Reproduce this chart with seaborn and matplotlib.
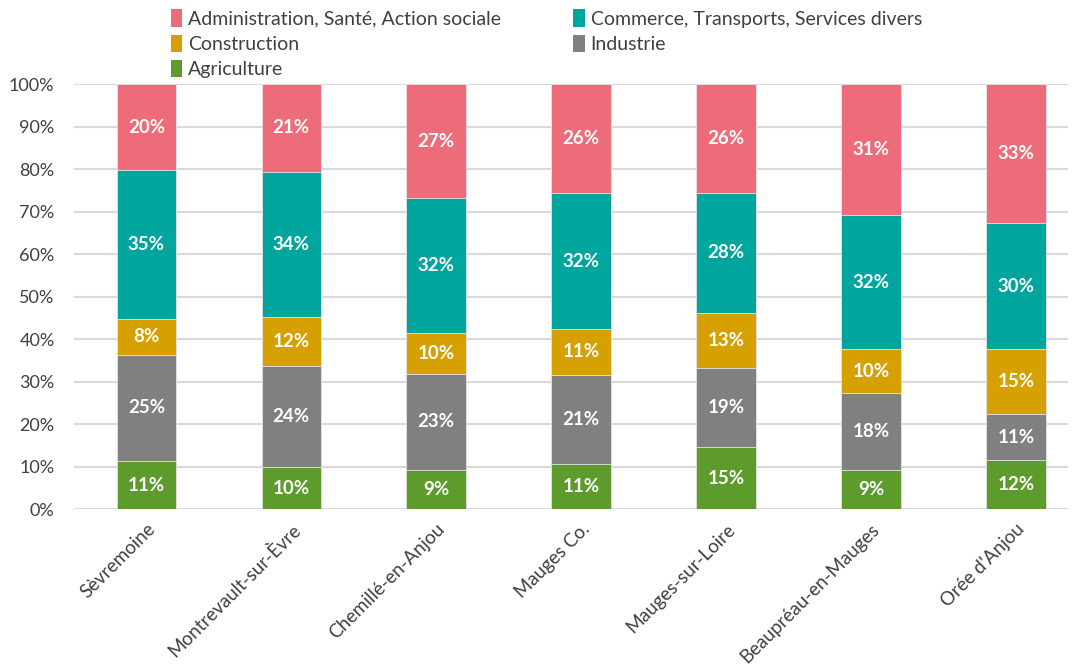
import numpy as np
import pandas as pd
import matplotlib
matplotlib.use("Agg")
import matplotlib.pyplot as plt
import seaborn as sns
from matplotlib.patches import Patch

# ==========================================
# DONNÉES (parts d'emploi par secteur, en %)
# ==========================================
communes = ["Sèvremoine", "Montrevault-sur-Èvre", "Chemillé-en-Anjou", "Mauges Co.",
            "Mauges-sur-Loire", "Beaupréau-en-Mauges", "Orée d'Anjou"]
agriculture = [11.4, 9.9, 9.2, 10.7, 14.6, 9.3, 11.7]
industrie = [25.0, 23.8, 22.7, 21.0, 18.6, 18.1, 10.6]
construction = [8.4, 11.6, 9.6, 10.7, 13.0, 10.2, 15.3]
commerce = [34.9, 34.1, 31.7, 32.0, 28.2, 31.6, 29.7]
administration = [20.3, 20.6, 26.8, 25.6, 25.6, 30.8, 32.7]

secteurs = ["Agriculture", "Industrie", "Construction",
            "Commerce, Transports, Services divers", "Administration, Santé, Action sociale"]
couleurs = {
    "Agriculture": "#5C9B2C",
    "Industrie": "#808080",
    "Construction": "#D5A000",
    "Commerce, Transports, Services divers": "#00A69D",
    "Administration, Santé, Action sociale": "#EE6C79",
}

df = pd.DataFrame({
    "commune": communes,
    "Agriculture": agriculture,
    "Industrie": industrie,
    "Construction": construction,
    "Commerce, Transports, Services divers": commerce,
    "Administration, Santé, Action sociale": administration,
})
cum = df[secteurs].cumsum(axis=1)
cum["commune"] = communes

# ==========================================
# STYLE
# ==========================================
sns.set_theme(style="white")
plt.rcParams['font.family'] = ['Lato', 'DejaVu Sans']

fig = plt.figure(figsize=(10.78, 6.68), dpi=100)
ax = fig.add_axes([0.0686, 0.2376, 0.9221, 0.6364])

# barres empilées : on trace les cumuls du plus grand au plus petit
for sect in reversed(secteurs):
    sns.barplot(data=cum, x="commune", y=sect, color=couleurs[sect], saturation=1,
                width=0.41, errorbar=None, edgecolor="#E6E6E6", linewidth=0.6, ax=ax)

# étiquettes de valeurs
for sect in secteurs:
    for i in range(len(communes)):
        val = df[sect][i]
        mid = cum[sect][i] - val / 2
        ax.text(i, mid, f"{val:.0f}%", ha="center", va="center", color="white",
                fontsize=13.5, fontweight="bold")

ax.set_ylim(0, 100)
ax.set_xlim(-0.5, 6.36)
ax.set_yticks(range(0, 101, 10))
ax.set_yticklabels([f"{v}%" for v in range(0, 101, 10)], fontsize=13, color="#404040")
ax.set_xticks(range(len(communes)))
ax.set_xticklabels(communes, rotation=45, ha="right", rotation_mode="anchor",
                   fontsize=13.5, color="#404040")
ax.tick_params(axis="both", length=0)
ax.tick_params(axis="x", pad=8)
ax.tick_params(axis="y", pad=14)
ax.set_xlabel("")
ax.set_ylabel("")
ax.grid(axis="y", color="#D9D9D9", linewidth=1.5)
ax.set_axisbelow(True)
for s in ax.spines.values():
    s.set_visible(False)

# légende (ordre ligne par ligne comme l'original)
ordre = ["Administration, Santé, Action sociale", "Construction", "Agriculture",
         "Commerce, Transports, Services divers", "Industrie"]
handles = [Patch(facecolor=couleurs[s], edgecolor="none", label=s) for s in ordre]
fig.legend(handles=handles, ncol=2, loc="upper left", bbox_to_anchor=(0.142, 1.012),
           frameon=False, fontsize=14, handlelength=0.6, handleheight=1.0,
           handletextpad=0.3, columnspacing=3.7, labelspacing=0.35, labelcolor="#404040")

fig.savefig("out.png", dpi=100)
